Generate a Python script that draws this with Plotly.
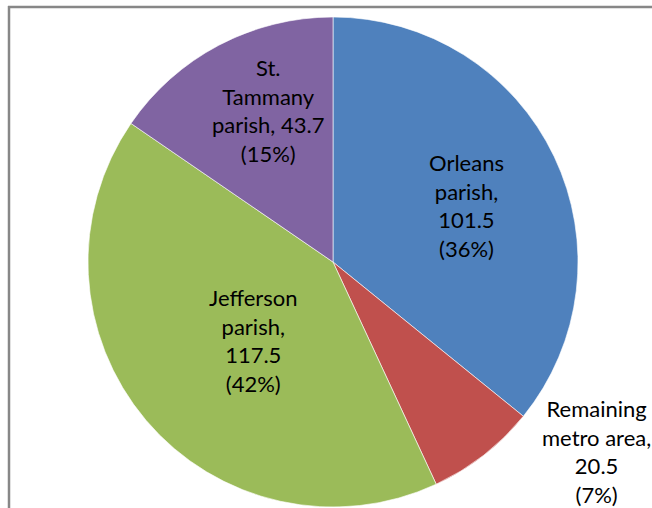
import plotly.graph_objects as go

labels = ["Orleans parish", "Remaining metro area", "Jefferson parish", "St. Tammany parish"]
values = [101.5, 20.5, 117.5, 43.7]
pct_labels = ["36%", "7%", "42%", "15%"]
colors = ["#4F81BD", "#C0504D", "#9BBB59", "#8064A2"]

# label text as shown in the picture (line breaks per label)
label_lines = [
    ["Orleans", "parish,"],
    ["Remaining", "metro area,"],
    ["Jefferson", "parish,"],
    ["St.", "Tammany", "parish,"],
]

W, H = 652, 508
cx, cy, R = 333, 262, 245

fig = go.Figure(go.Pie(
    labels=labels, values=values, sort=False, direction="clockwise", rotation=0,
    marker=dict(colors=colors, line=dict(color="white", width=0.6)),
    textinfo="none", hoverinfo="label+value+percent", showlegend=False,
    domain=dict(x=[(cx - R) / W, (cx + R) / W], y=[(H - cy - R) / H, (H - cy + R) / H]),
))

# label block centres in pixels (layout)
label_pos = [(466, 206), (596, 451), (253, 340), (268, 110)]

for i in range(len(labels)):
    lines = list(label_lines[i])
    val = f"{values[i]:g}"
    if i == 3:
        lines[-1] = lines[-1] + " " + val
    else:
        lines.append(val)
    lines.append(f"({pct_labels[i]})")
    px, py = label_pos[i]
    fig.add_annotation(
        x=px / W, y=1 - py / H, xref="paper", yref="paper",
        text="<br>".join(lines), showarrow=False, align="center",
        xanchor="center", yanchor="middle",
        font=dict(family="Lato, Open Sans, sans-serif", size=22, color="#000000"),
    )

# chart-area frame: top and left edges visible
border = dict(color="#878787", width=2.5)
fig.add_shape(type="line", xref="paper", yref="paper",
              x0=8 / W, x1=1.0, y0=1 - 7 / H, y1=1 - 7 / H, line=border)
fig.add_shape(type="line", xref="paper", yref="paper",
              x0=9 / W, x1=9 / W, y0=0.0, y1=1 - 6 / H, line=border)

fig.update_layout(
    width=W, height=H, margin=dict(l=0, r=0, t=0, b=0),
    paper_bgcolor="white", plot_bgcolor="white",
)

fig.write_html("out.html", config={"displayModeBar": False},
               post_script="document.body.style.margin='0px';document.body.style.overflow='hidden';")
